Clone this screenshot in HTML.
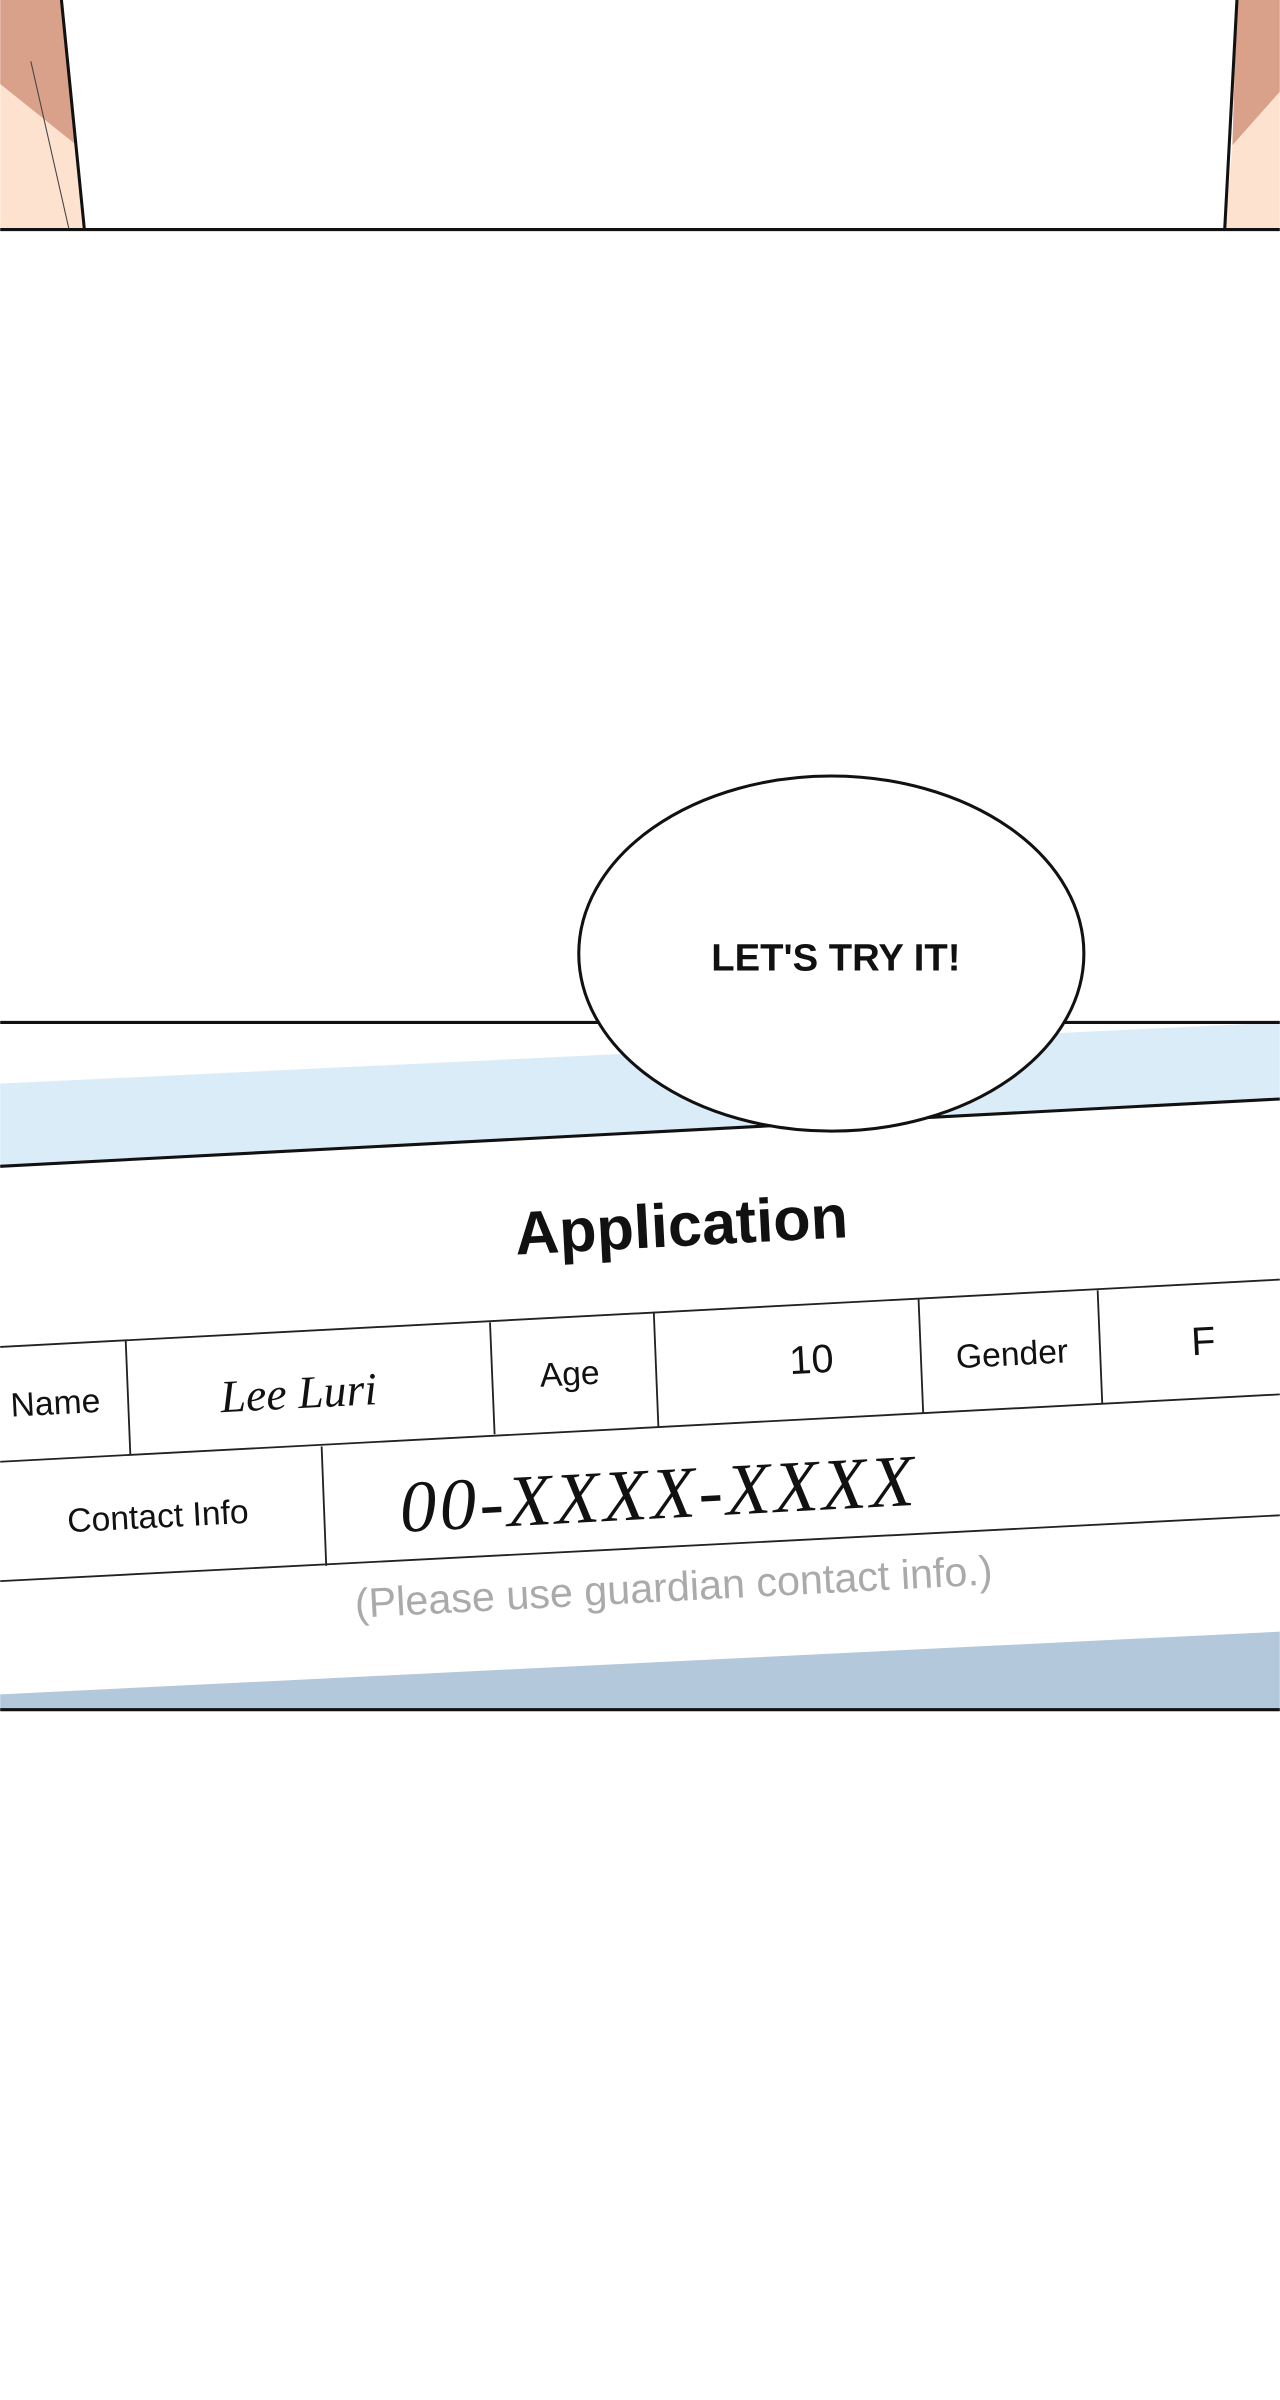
<!DOCTYPE html>
<html><head><meta charset="utf-8"><style>
html,body{margin:0;padding:0;background:#fff;}
svg{display:block;}
</style></head><body>
<svg width="1280" height="2400" viewBox="0 0 836 1568" xmlns="http://www.w3.org/2000/svg">
<rect width="836" height="1568" fill="#fff"/>
<polygon points="0,0 40,0 50,95 0,55" fill="#d9a08a"/>
<polygon points="0,55 50,95 55,150 0,150" fill="#fde3cf"/>
<line x1="40" y1="0" x2="55" y2="150" stroke="#111" stroke-width="2"/>
<line x1="20" y1="40" x2="45" y2="150" stroke="#444" stroke-width="0.7"/>
<polygon points="808,0 836,0 836,60 805,95" fill="#d9a08a"/>
<polygon points="805,95 836,60 836,150 800,150" fill="#fde3cf"/>
<line x1="808" y1="0" x2="800" y2="150" stroke="#111" stroke-width="2"/>
<line x1="0" y1="150" x2="836" y2="150" stroke="#111" stroke-width="2"/>
<polygon points="0,708 836,668 836,718 0,762" fill="#dbecf9"/>
<polygon points="0,1107 836,1066 836,1117 0,1117" fill="#b4c8db"/>
<line x1="0" y1="762" x2="836" y2="718" stroke="#111" stroke-width="2"/>
<line x1="0" y1="668" x2="836" y2="668" stroke="#111" stroke-width="2"/>
<line x1="0" y1="1117" x2="836" y2="1117" stroke="#111" stroke-width="2"/>
<g stroke="#222" stroke-width="1.2">
<line x1="0" y1="880" x2="836" y2="836"/>
<line x1="0" y1="955" x2="836" y2="911"/>
<line x1="0" y1="1033" x2="836" y2="990"/>
<line x1="82" y1="876" x2="85" y2="950"/>
<line x1="320" y1="864" x2="323" y2="937"/>
<line x1="427" y1="857" x2="430" y2="932"/>
<line x1="600" y1="849" x2="603" y2="923"/>
<line x1="717" y1="843" x2="720" y2="917"/>
<line x1="210" y1="945" x2="213" y2="1023"/>
</g>
<g font-family="Liberation Sans, sans-serif" fill="#111" text-anchor="middle">
<text x="445" y="814" font-size="40" font-weight="bold" transform="rotate(-3 445 800)">Application</text>
<text x="36" y="924" font-size="22" transform="rotate(-3 36 916)">Name</text>
<text x="195" y="920" font-size="30" font-style="italic" font-family="Liberation Serif, serif" transform="rotate(-3 195 910)">Lee Luri</text>
<text x="372" y="905" font-size="22" transform="rotate(-3 372 897)">Age</text>
<text x="530" y="897" font-size="26" transform="rotate(-3 530 888)">10</text>
<text x="661" y="892" font-size="22" transform="rotate(-3 661 884)">Gender</text>
<text x="786" y="885" font-size="26" transform="rotate(-3 786 876)">F</text>
<text x="103" y="998" font-size="22" transform="rotate(-3 103 990)">Contact Info</text>
<text x="430" y="992" font-size="48" letter-spacing="2" font-style="italic" font-family="Liberation Serif, serif" transform="rotate(-3 430 975)">00-XXXX-XXXX</text>
<text x="440" y="1046" font-size="27" fill="#aaa" transform="rotate(-3 440 1037)">(Please use guardian contact info.)</text>
</g>
<ellipse cx="543" cy="623" rx="165" ry="116" fill="#fff" stroke="#111" stroke-width="2"/>
<text x="546" y="634" font-family="Liberation Sans, sans-serif" font-weight="bold" font-size="25" text-anchor="middle" fill="#111">LET'S TRY IT!</text>
</svg>
</body></html>
